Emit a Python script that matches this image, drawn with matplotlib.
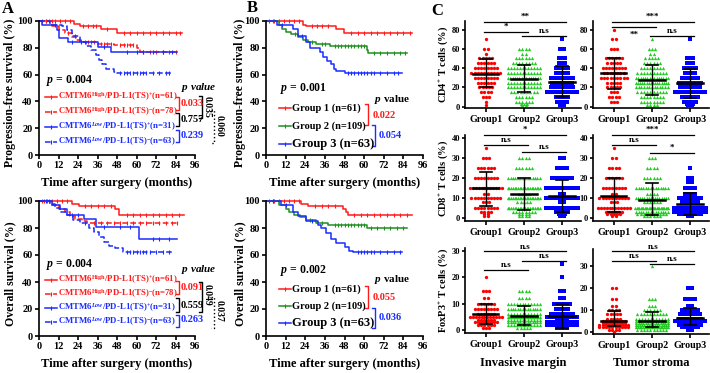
import numpy as np
import matplotlib.pyplot as plt
from matplotlib.lines import Line2D

plt.rcParams['font.family'] = 'Liberation Serif'
plt.rcParams['font.weight'] = 'bold'
plt.rcParams['mathtext.fontset'] = 'custom'
plt.rcParams['mathtext.rm'] = 'Liberation Serif:bold'
plt.rcParams['mathtext.bf'] = 'Liberation Serif:bold'
plt.rcParams['mathtext.it'] = 'Liberation Serif:italic:bold'
plt.rcParams['axes.linewidth'] = 1.2

RED = '#ff1a1a'
BLUE = '#1a2cff'
GREEN = '#1f8f1f'
SC_GREEN = '#22cc22'

# ---------------- survival data (drop times, survival after drop, end, censor times)
pfs_hh_pos = dict(t=[21.8, 25, 38, 48], s=[97.5, 96, 94, 91], end=88,
                  c=[2, 4, 6, 8, 10, 13, 16, 19, 27, 30, 33, 35, 42, 52, 56, 60, 64, 68, 72, 76, 80, 84, 87])
pfs_hh_neg = dict(t=[8, 12, 16, 20, 23, 26, 36, 46, 60, 62], s=[96, 93, 91, 88, 86, 84, 83, 82, 80, 77], end=85,
                  c=[4, 18, 28, 30, 32, 34, 38, 40, 42, 44, 50, 52, 54, 56, 58, 64, 68, 72, 76, 80, 84])
pfs_lh_pos = dict(t=[2, 11, 12, 18, 36, 44], s=[97, 93.5, 87, 84, 80.5, 76.5], end=85,
                  c=[20, 26, 40, 54, 60, 64, 70, 76, 82])
pfs_lh_neg = dict(t=[7, 14, 17, 20, 25, 29, 32, 35, 37, 39, 41, 46, 48],
                  s=[97, 96, 93, 89, 84, 81, 78, 75, 71, 68, 64, 62, 61], end=82,
                  c=[10, 22, 50, 52, 54, 56, 58, 60, 62, 64, 66, 70, 74, 78, 80])

os_hh_pos = dict(t=[20, 24.5, 47, 49.4], s=[98, 96, 94, 90], end=89,
                 c=[2, 5, 8, 11, 14, 17, 28, 32, 36, 40, 44, 54, 58, 62, 66, 70, 74, 78, 82, 86])
os_hh_neg = dict(t=[8, 12, 16, 19, 22.4, 26.5, 29.7], s=[97, 94, 92, 89, 87, 85, 84], end=86,
                 c=[3, 6, 34, 38, 42, 46, 50, 54, 58, 62, 66, 70, 74, 78, 82, 85])
os_lh_pos = dict(t=[8, 13, 17, 27.6, 34.9, 61.8], s=[97, 94, 90, 87, 80.5, 71.5], end=85,
                 c=[20, 24, 40, 50, 56, 70, 74, 80])
os_lh_neg = dict(t=[6.8, 10, 13, 17, 21, 25.5, 30.7, 33.8, 37, 40, 43, 47, 51.4],
                 s=[98, 95, 92, 90, 86, 84, 80, 77, 73, 70, 67, 65, 62], end=83,
                 c=[4, 28, 54, 56, 58, 60, 62, 64, 66, 68, 72, 76, 80])

pfs_g1 = dict(t=[22.6, 24.6, 43, 47.6], s=[97, 96, 94, 91], end=89,
              c=[2, 5, 8, 11, 14, 17, 20, 28, 31, 34, 38, 52, 56, 60, 64, 68, 72, 76, 80, 84, 88])
pfs_g2 = dict(t=[8, 10, 12, 15, 19.5, 22.5, 25.6, 30.8, 39, 61.5, 62.6],
              s=[97, 94, 92, 90, 88, 86, 84, 83, 81, 78, 76], end=86,
              c=[4, 18, 28, 34, 36, 42, 44, 46, 48, 50, 52, 54, 56, 58, 60, 66, 70, 74, 78, 82, 85])
pfs_g3 = dict(t=[7, 16.4, 19.5, 24.6, 26.7, 32.8, 35, 37, 39.6, 41.4, 43, 48],
              s=[97, 94, 89, 84, 80, 77, 73, 70, 68, 64, 63, 61], end=83,
              c=[10, 22, 50, 52, 54, 56, 58, 60, 62, 64, 66, 70, 74, 78, 81])

os_g1 = dict(t=[21.5, 25.6, 47, 48.8, 50], s=[98, 96, 94, 92, 90], end=89,
             c=[2, 5, 8, 11, 14, 17, 20, 30, 34, 38, 42, 54, 58, 62, 66, 70, 74, 78, 82, 86])
os_g2 = dict(t=[8.2, 12.3, 14, 17.4, 20.5, 24.6, 30.8, 38, 61.5],
             s=[97, 94, 92, 90, 88, 86, 84, 82, 80], end=86,
             c=[4, 27, 34, 42, 44, 46, 48, 50, 52, 54, 56, 58, 60, 64, 68, 72, 76, 80, 84])
os_g3 = dict(t=[9, 16.4, 19.5, 24.6, 31.8, 33.8, 36.9, 40, 43, 48, 51, 53],
             s=[97, 92, 89, 85, 82, 80, 76, 72, 69, 66, 63, 62], end=83,
             c=[4, 12, 28, 56, 58, 60, 62, 64, 66, 70, 74, 78, 82])

# ---------------- scatter data: (value, count) per group
cd4_im = [[(70, 1), (60, 2), (55, 1), (50, 5), (45, 6), (40, 8), (35, 10), (30, 8), (25, 6), (20, 5), (15, 4), (10, 3), (5, 1), (2, 1)],
          [(60, 4), (55, 2), (50, 6), (45, 8), (40, 12), (35, 12), (30, 15), (25, 12), (20, 12), (15, 9), (10, 6), (5, 6), (3, 3), (2, 2)],
          [(70, 1), (60, 2), (50, 3), (45, 3), (40, 5), (35, 5), (30, 8), (25, 7), (20, 8), (15, 10), (10, 5), (5, 4), (2, 2)]]
cd4_ts = [[(80, 1), (70, 2), (60, 3), (50, 6), (45, 5), (40, 8), (35, 7), (30, 9), (25, 5), (20, 5), (15, 3), (10, 4), (5, 3)],
          [(70, 1), (60, 3), (55, 2), (50, 5), (45, 6), (40, 8), (35, 10), (30, 15), (25, 16), (20, 13), (15, 10), (10, 8), (5, 8), (2, 4)],
          [(70, 1), (50, 3), (45, 3), (40, 5), (35, 4), (30, 6), (25, 8), (20, 7), (15, 10), (10, 6), (5, 5), (3, 3), (2, 2)]]
cd8_im = [[(35, 1), (30, 3), (25, 6), (20, 8), (15, 12), (12, 2), (10, 10), (8, 3), (5, 8), (3, 4), (2, 2), (1, 2)],
          [(30, 4), (25, 6), (20, 14), (15, 20), (12, 4), (10, 20), (8, 5), (5, 20), (3, 8), (2, 4), (1, 4)],
          [(30, 2), (25, 4), (20, 7), (15, 12), (12, 2), (10, 12), (8, 2), (5, 12), (3, 5), (2, 3), (1, 2)]]
cd8_ts = [[(35, 1), (30, 2), (25, 4), (20, 6), (15, 8), (12, 2), (10, 10), (8, 3), (5, 12), (3, 6), (2, 5), (1, 2)],
          [(30, 3), (25, 4), (20, 6), (15, 14), (12, 4), (10, 16), (8, 6), (5, 26), (3, 14), (2, 10), (1, 6)],
          [(25, 1), (20, 2), (18, 2), (15, 4), (12, 4), (10, 8), (8, 6), (5, 14), (3, 12), (2, 8), (1, 2)]]
foxp3_im = [[(20, 1), (15, 3), (12, 2), (10, 6), (8, 8), (6, 6), (5, 12), (4, 6), (3, 8), (2, 6), (1, 3)],
            [(15, 4), (12, 4), (10, 12), (8, 14), (6, 12), (5, 20), (4, 12), (3, 14), (2, 12), (1, 5)],
            [(25, 1), (20, 1), (15, 2), (12, 2), (10, 6), (8, 5), (6, 8), (5, 10), (4, 4), (3, 10), (2, 10), (1, 4)]]
foxp3_ts = [[(20, 2), (15, 2), (12, 2), (10, 4), (8, 5), (6, 5), (5, 8), (4, 8), (3, 10), (2, 10), (1, 4), (0, 1)],
            [(30, 1), (15, 3), (12, 3), (10, 6), (8, 10), (6, 12), (5, 16), (4, 14), (3, 16), (2, 18), (1, 10)],
            [(20, 2), (15, 4), (12, 2), (10, 6), (8, 7), (6, 8), (5, 10), (4, 8), (3, 8), (2, 6), (1, 2)]]

# mean and SD limits
cd4_im_mean, cd4_im_lo, cd4_im_hi = [34, 29, 26], [20, 15, 10], [49, 43.5, 42]
cd4_ts_mean, cd4_ts_lo, cd4_ts_hi = [35, 28, 24], [18, 12.5, 9], [51, 43.5, 39]
cd8_im_mean, cd8_im_lo, cd8_im_hi = [15, 12, 11], [6, 4, 3], [23, 20, 19]
cd8_ts_mean, cd8_ts_lo, cd8_ts_hi = [11, 9, 7], [3, 1.5, 1.5], [20, 17.5, 12.5]
foxp3_im_mean, foxp3_im_lo, foxp3_im_hi = [6, 5.5, 5.5], [2.5, 2, 1], [10, 9, 10]
foxp3_ts_mean, foxp3_ts_lo, foxp3_ts_hi = [5, 5, 6.5], [2.5, 2, 3], [9.5, 9, 11]

# significance bars: (from group, to group, height, label, label below line)
cd4_im_sig = [(1, 3, 87.8, '**', False), (1, 2, 77.4, '*', False), (2, 3, 73.2, 'n.s', False)]
cd4_ts_sig = [(1, 3, 87.8, '***', False), (1, 2, 82.6, '**', True), (2, 3, 73.2, 'n.s', False)]
cd8_im_sig = [(1, 3, 41.5, '*', False), (1, 2, 36.5, 'n.s', False), (2, 3, 33, 'n.s', False)]
cd8_ts_sig = [(1, 3, 41.5, '***', False), (1, 2, 36.5, 'n.s', False), (2, 3, 32.5, '*', False)]
foxp3_im_sig = [(1, 3, 29.7, 'n.s', False), (2, 3, 26.2, 'n.s', False), (1, 2, 22.8, 'n.s', False)]
foxp3_ts_sig = [(1, 3, 36.9, 'n.s', False), (1, 2, 32.7, 'n.s', False), (2, 3, 31.3, 'n.s', False)]

groups = ['Group1', 'Group2', 'Group3']

W, H = 710, 373
fig = plt.figure(figsize=(W / 100, H / 100), dpi=100)


def add_ax(l, t, r, b):
    return fig.add_axes([l / W, 1 - b / H, (r - l) / W, (b - t) / H])


def ftext(x, y, s, **kw):
    fig.text(x / W, 1 - y / H, s, **kw)


def fline(xs, ys, **kw):
    fig.add_artist(Line2D([x / W for x in xs], [1 - y / H for y in ys],
                          transform=fig.transFigure, **kw))


def bracket(x, y0, y1, color, ls='-'):
    fline([x - 3, x, x, x - 3], [y0, y0, y1, y1], color=color, lw=1, ls=ls)


def km(ax, d, color, ls='-'):
    t = [0] + d['t'] + [d['end']]
    s = [100] + d['s'] + [d['s'][-1]]
    ax.step(t, s, where='post', color=color, lw=1.1, ls=ls, clip_on=False)
    idx = np.searchsorted(d['t'], d['c'], side='right')
    ys = np.array([100] + d['s'])[idx]
    ax.plot(d['c'], ys, ls='none', marker='|', ms=3, mew=0.8, color=color, clip_on=False)


def km_axes(l, t, r, b, ylabel, labx):
    ax = add_ax(l, t, r, b)
    ax.set_xlim(0, 96)
    ax.set_ylim(0, 100)
    ax.set_xticks(range(0, 97, 12))
    ax.set_yticks(range(0, 101, 20))
    for sp in ['top', 'right']:
        ax.spines[sp].set_visible(False)
    ax.tick_params(labelsize=7.5, width=1.2, length=3, pad=1.5)
    ftext((l + r) / 2, b + 28, 'Time after surgery (months)', ha='center', va='center', fontsize=9)
    ftext(labx, (t + b) / 2 + 5, ylabel, ha='center', va='center', rotation=90, fontsize=8.5)
    return ax


def legend_entry(x, y, color, ls, label, fs=7.5, col='k'):
    fline([x, x + 12], [y, y], color=color, lw=1.1, ls=ls)
    fline([x + 6], [y], color=color, marker='|', ms=3, mew=0.8)
    ftext(x + 13, y, label, ha='left', va='center', fontsize=fs, color=col)


# ---------------- panel A
labels_a = [r'CMTM6$^{\mathrm{High}}$/PD-L1(TS)$^{+}$(n=61)',
            r'CMTM6$^{\mathrm{High}}$/PD-L1(TS)$^{-}$(n=78)',
            r'CMTM6$^{\mathit{Low}}$/PD-L1(TS)$^{+}$(n=31)',
            r'CMTM6$^{\mathit{Low}}$/PD-L1(TS)$^{-}$(n=63)']
styles_a = [(RED, '-'), (RED, '--'), (BLUE, '-'), (BLUE, '--')]

for (t, b, curves, ylabel, ys, pv, pv_txt, ptxt) in [
        (21, 155, [pfs_hh_pos, pfs_hh_neg, pfs_lh_pos, pfs_lh_neg], 'Progression-free survival (%)',
         [97, 112, 127, 142], [(97, 110, 104), (113, 126, 120), (130, 142, 135), (96, 118, 107), (110, 143, 126)],
         ['0.033', '0.757', '0.239', '0.035', '0.060'], r'$p$ = 0.004'),
        (201, 336, [os_hh_pos, os_hh_neg, os_lh_pos, os_lh_neg], 'Overall survival (%)',
         [280, 294, 308, 322], [(281, 294, 288), (298, 312, 305), (315, 327, 320), (282, 312, 295), (297, 328, 311)],
         ['0.091', '0.559', '0.263', '0.049', '0.037'], r'$p$ = 0.004')]:
    ax = km_axes(39, t, 195, b, ylabel, 10)
    for d, (c, ls) in zip(curves, styles_a):
        km(ax, d, c, ls)
    ftext(46, ys[0] - 16, ptxt, ha='left', va='center', fontsize=8.5)
    ftext(181, ys[0] - 10, r'$p$ value', ha='left', va='center', fontsize=8, style='italic')
    for y, lab, (c, ls) in zip(ys, labels_a, styles_a):
        legend_entry(45, y, c, ls, lab, fs=6.3, col=c)
    cols = [RED, 'k', BLUE]
    for k in range(3):
        bracket(179, pv[k][0], pv[k][1], cols[k])
        ftext(181, pv[k][2], pv_txt[k], ha='left', va='center', fontsize=7.5, color=cols[k])
    bracket(202, pv[3][0], pv[3][1], 'k')
    ftext(207, pv[3][2], pv_txt[3], ha='center', va='center', fontsize=7, rotation=270)
    bracket(214, pv[4][0], pv[4][1], 'k', ls=':')
    ftext(219, pv[4][2], pv_txt[4], ha='center', va='center', fontsize=7, rotation=270)

ftext(8, 9, 'A', ha='center', va='center', fontsize=12)

# ---------------- panel B
labels_b = ['Group 1 (n=61)', 'Group 2 (n=109)', 'Group 3 (n=63)']
colors_b = [RED, GREEN, BLUE]
for (t, b, curves, ylabel, ys, ptxt, pvy, pv_txt) in [
        (21, 155, [pfs_g1, pfs_g2, pfs_g3], 'Progression-free survival (%)', [108, 126, 144],
         r'$p$ = 0.001', [(104, 125, 116), (125, 146, 135), 99], ['0.022', '0.054']),
        (201, 336, [os_g1, os_g2, os_g3], 'Overall survival (%)', [289, 306, 323],
         r'$p$ = 0.002', [(286, 308, 297), (308, 328, 317), 280], ['0.055', '0.036'])]:
    ax = km_axes(266, t, 423, b, ylabel, 240)
    for d, c in zip(curves, colors_b):
        km(ax, d, c)
    ftext(280, ys[0] - 19, ptxt, ha='left', va='center', fontsize=8.5)
    ftext(374, pvy[2], r'$p$ value', ha='left', va='center', fontsize=8)
    for i, (y, lab, c) in enumerate(zip(ys, labels_b, colors_b)):
        legend_entry(279, y, c, '-', lab, fs=9 if i == 2 else 7.5)
    bracket(368, pvy[0][0], pvy[0][1], RED)
    ftext(373, pvy[0][2], pv_txt[0], ha='left', va='center', fontsize=7.5, color=RED)
    bracket(375, pvy[1][0], pvy[1][1], BLUE)
    ftext(379, pvy[1][2], pv_txt[1], ha='left', va='center', fontsize=7.5, color=BLUE)

ftext(252, 8, 'B', ha='center', va='center', fontsize=12)

# ---------------- panel C
sc_colors = ['#ff0000', SC_GREEN, '#0000ff']
sc_markers = ['o', '^', 's']


def scatter_panel(l, t, r, b, data, mean, lo, hi, sig, ylim, yticks, ylabel=None):
    ax = add_ax(l, t, r, b)
    for g, grp in enumerate(data):
        xs, ys = [], []
        for v, n in grp:
            dx = min(0.085, 0.9 / max(n, 1))
            xs += list(g + 1 + (np.arange(n) - (n - 1) / 2) * dx)
            ys += [v] * n
        ax.plot(xs, ys, ls='none', marker=sc_markers[g], ms=2.4, mew=0,
                color=sc_colors[g], clip_on=False)
        ax.plot([g + 1 - 0.33, g + 1 + 0.33], [mean[g]] * 2, color='k', lw=1.8)
        ax.plot([g + 1, g + 1], [lo[g], hi[g]], color='k', lw=1)
        for yy in (lo[g], hi[g]):
            ax.plot([g + 1 - 0.16, g + 1 + 0.16], [yy, yy], color='k', lw=1.2)
    for x1, x2, y, lab, below in sig:
        ax.plot([x1 - 0.05, x2 + 0.1], [y, y], color='k', lw=0.9, clip_on=False)
        ax.text((x1 + x2) / 2 + 0.02, y - (0.045 if below else -0.01) * (ylim[1] - ylim[0]), lab,
                ha='center', va='top' if below else 'bottom', fontsize=6.5)
    ax.set_xlim(0.45, 3.5)
    ax.set_ylim(*ylim)
    ax.set_yticks(yticks)
    ax.set_xticks([1, 2, 3])
    ax.set_xticklabels(groups)
    for sp in ['top', 'right']:
        ax.spines[sp].set_visible(False)
    ax.tick_params(axis='y', labelsize=6, width=1.2, length=2.5, pad=1)
    ax.tick_params(axis='x', labelsize=7.2, width=1.2, length=3, pad=2)
    if ylabel:
        ftext(443, (t + b) / 2, ylabel, ha='center', va='center', rotation=90, fontsize=7.5)
    return ax


scatter_panel(465, 21, 581, 108, cd4_im, cd4_im_mean, cd4_im_lo, cd4_im_hi, cd4_im_sig,
              (-1.5, 89), range(0, 81, 20), r'CD4$^{+}$ T cells (%)')
scatter_panel(593, 21, 709, 108, cd4_ts, cd4_ts_mean, cd4_ts_lo, cd4_ts_hi, cd4_ts_sig,
              (-1.5, 89), range(0, 81, 20))
scatter_panel(465, 135, 581, 221, cd8_im, cd8_im_mean, cd8_im_lo, cd8_im_hi, cd8_im_sig,
              (-1.5, 41.5), range(0, 41, 10), r'CD8$^{+}$ T cells (%)')
scatter_panel(593, 135, 709, 221, cd8_ts, cd8_ts_mean, cd8_ts_lo, cd8_ts_hi, cd8_ts_sig,
              (-1.5, 41.5), range(0, 41, 10))
scatter_panel(465, 248, 581, 333, foxp3_im, foxp3_im_mean, foxp3_im_lo, foxp3_im_hi, foxp3_im_sig,
              (-1, 31), range(0, 31, 10), r'FoxP3$^{+}$ T cells (%)')
scatter_panel(593, 249, 709, 334, foxp3_ts, foxp3_ts_mean, foxp3_ts_lo, foxp3_ts_hi, foxp3_ts_sig,
              (-1, 38), range(0, 31, 10))

ftext(523, 363, 'Invasive margin', ha='center', va='center', fontsize=9)
ftext(651, 363, 'Tumor stroma', ha='center', va='center', fontsize=9)
ftext(437, 11, 'C', ha='center', va='center', fontsize=12)

fig.savefig('out.png', dpi=100)
